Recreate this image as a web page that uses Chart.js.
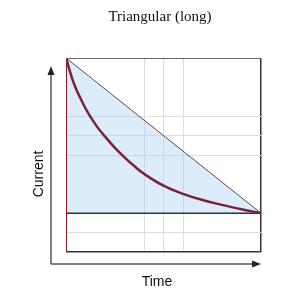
<!DOCTYPE html>
<html>
<head>
<meta charset="utf-8">
<script src="https://cdn.jsdelivr.net/npm/chart.js@4/dist/chart.umd.min.js"></script>
<style>
  html, body { margin: 0; padding: 0; background: #fff; }
  #wrap { width: 300px; height: 300px; }
</style>
</head>
<body>
<div id="wrap"><canvas id="chart"></canvas></div>
<script>
// values (time 0..10, current 0..10)
const titleText = "Triangular (long)";
const xLabel = "Time";
const yLabel = "Current";

const triangleX = [0, 10];
const triangleY = [10, 2];

const curveX = [0, 0.4, 0.8, 1.2, 1.6, 2, 2.5, 3, 3.5, 4, 5, 6, 7, 8, 9, 10];
const curveY = [10, 8.7, 7.8, 7.05, 6.45, 5.95, 5.38, 4.88, 4.43, 4.03, 3.42, 3.0, 2.68, 2.43, 2.2, 2.0];

const baselineX = [0, 10];
const baselineY = [2, 2];

const startX = [0, 0];
const startY = [0, 10];

const xGridTicks = [0, 4, 5, 6, 10];
const yGridTicks = [0, 1, 2, 5, 6, 7, 10];

const toPoints = (xs, ys) => xs.map((x, i) => ({ x: x, y: ys[i] }));

// arrows, axis names and title drawn around the plot area
const decorations = {
  id: "decorations",
  afterDraw(chart) {
    const { ctx, chartArea } = chart;
    const ax = chartArea.left - 15;
    const ay = chartArea.bottom + 12;
    ctx.save();
    ctx.strokeStyle = "#555";
    ctx.fillStyle = "#222";
    ctx.lineWidth = 1.5;
    ctx.beginPath();
    ctx.moveTo(ax, ay);
    ctx.lineTo(ax, chartArea.top + 14);
    ctx.moveTo(ax, ay);
    ctx.lineTo(chartArea.right - 4, ay);
    ctx.stroke();
    // heads
    ctx.beginPath();
    ctx.moveTo(ax, chartArea.top + 8);
    ctx.lineTo(ax - 3.5, chartArea.top + 17);
    ctx.lineTo(ax + 3.5, chartArea.top + 17);
    ctx.closePath();
    ctx.fill();
    ctx.beginPath();
    ctx.moveTo(chartArea.right, ay);
    ctx.lineTo(chartArea.right - 9, ay - 3.5);
    ctx.lineTo(chartArea.right - 9, ay + 3.5);
    ctx.closePath();
    ctx.fill();

    ctx.fillStyle = "#111";
    ctx.textAlign = "center";
    ctx.textBaseline = "middle";
    ctx.font = "14px 'Liberation Sans', Arial, sans-serif";
    ctx.fillText(xLabel, 157, chartArea.bottom + 30);
    ctx.save();
    ctx.translate(39, 174);
    ctx.rotate(-Math.PI / 2);
    ctx.fillText(yLabel, 0, 0);
    ctx.restore();

    ctx.font = "15px 'Liberation Serif', 'DejaVu Serif', serif";
    ctx.fillText(titleText, 160, 17);
    ctx.restore();
  }
};

const edgeColor = (ctx, first, last) => {
  const v = ctx.tick.value;
  if (v === first) return ctx.scale.axis === "x" ? "rgba(0,0,0,0)" : "#333";
  if (v === last) return ctx.scale.axis === "x" ? "#333" : "#666";
  return "#dddddd";
};

// chart.js paints the last dataset first, so the filled triangle goes at the end
new Chart(document.getElementById("chart"), {
  type: "scatter",
  data: {
    datasets: [
      {
        data: toPoints(startX, startY),
        showLine: true,
        borderColor: "#8c1c22",
        borderWidth: 2,
        pointRadius: 0,
        fill: false
      },
      {
        data: toPoints(curveX, curveY),
        showLine: true,
        borderColor: "#762536",
        borderWidth: 2.5,
        tension: 0.4,
        pointRadius: 0,
        fill: false
      },
      {
        data: toPoints(baselineX, baselineY),
        showLine: true,
        borderColor: "#333",
        borderWidth: 1.5,
        pointRadius: 0,
        fill: false
      },
      {
        data: toPoints(triangleX, triangleY),
        showLine: true,
        borderColor: "#4a4f55",
        borderWidth: 1,
        backgroundColor: "rgba(173,210,245,0.42)",
        fill: { value: 2 },
        pointRadius: 0
      }
    ]
  },
  options: {
    responsive: true,
    maintainAspectRatio: false,
    animation: false,
    events: [],
    layout: { padding: { left: 66, right: 39, top: 58, bottom: 48 } },
    plugins: {
      legend: { display: false },
      tooltip: { enabled: false },
      title: { display: false }
    },
    scales: {
      x: {
        type: "linear",
        min: 0,
        max: 10,
        afterBuildTicks: (scale) => { scale.ticks = xGridTicks.map((v) => ({ value: v })); },
        ticks: { display: false },
        border: { display: false },
        grid: {
          drawTicks: false,
          lineWidth: (ctx) => (ctx.tick.value === 10 ? 1.5 : 1),
          color: (ctx) => edgeColor(ctx, 0, 10)
        }
      },
      y: {
        type: "linear",
        min: 0,
        max: 10,
        afterBuildTicks: (scale) => { scale.ticks = yGridTicks.map((v) => ({ value: v })); },
        ticks: { display: false },
        border: { display: false },
        grid: {
          drawTicks: false,
          lineWidth: (ctx) => (ctx.tick.value === 0 ? 1.5 : 1),
          color: (ctx) => edgeColor(ctx, 0, 10)
        }
      }
    }
  },
  plugins: [decorations]
});
</script>
</body>
</html>
